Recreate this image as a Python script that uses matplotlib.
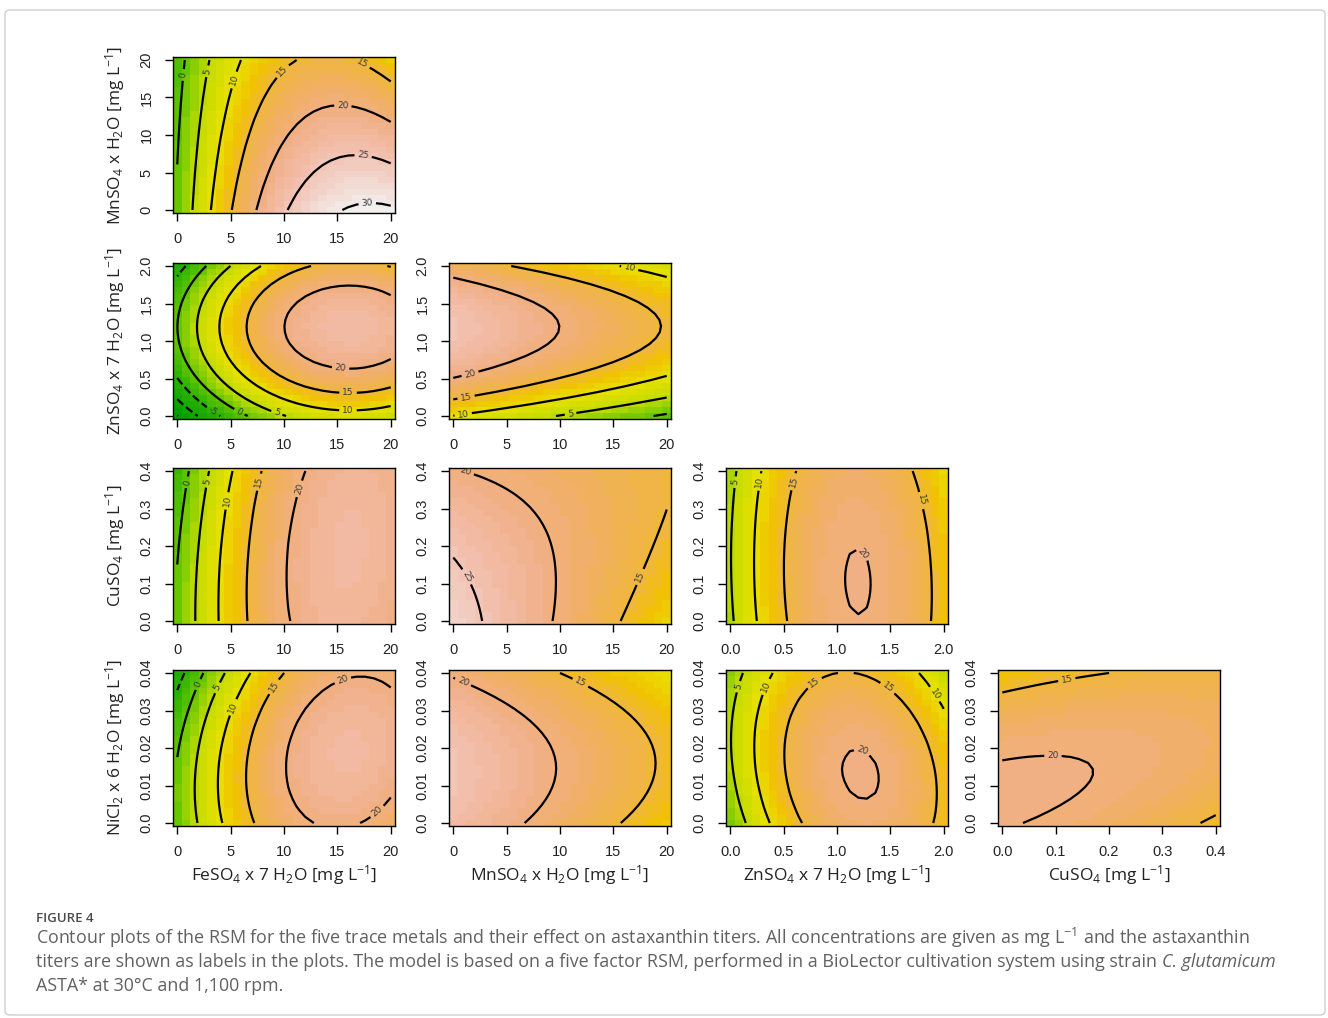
import numpy as np
import matplotlib
matplotlib.use('Agg')
import matplotlib.pyplot as plt
from matplotlib.colors import LinearSegmentedColormap, Normalize
from matplotlib.patches import FancyBboxPatch

plt.rcParams['mathtext.fontset'] = 'custom'
plt.rcParams['mathtext.rm'] = 'Open Sans'
plt.rcParams['mathtext.it'] = 'Open Sans:italic'
plt.rcParams['mathtext.bf'] = 'Open Sans:bold'

# factors of the five factor RSM (Fe, Mn, Zn, Cu, Ni), real units in mg/L
factor_labels = [r"FeSO$_4$ x 7 H$_2$O [mg L$^{-1}$]",
                 r"MnSO$_4$ x H$_2$O [mg L$^{-1}$]",
                 r"ZnSO$_4$ x 7 H$_2$O [mg L$^{-1}$]",
                 r"CuSO$_4$ [mg L$^{-1}$]",
                 r"NiCl$_2$ x 6 H$_2$O [mg L$^{-1}$]"]
factor_low = [0.0, 0.0, 0.0, 0.0, 0.0]
factor_high = [20.0, 20.0, 2.0, 0.4, 0.04]
factor_ticks = [[0, 5, 10, 15, 20],
                [0, 5, 10, 15, 20],
                [0.0, 0.5, 1.0, 1.5, 2.0],
                [0.0, 0.1, 0.2, 0.3, 0.4],
                [0.0, 0.01, 0.02, 0.03, 0.04]]
factor_ticklabels = [["0", "5", "10", "15", "20"],
                     ["0", "5", "10", "15", "20"],
                     ["0.0", "0.5", "1.0", "1.5", "2.0"],
                     ["0.0", "0.1", "0.2", "0.3", "0.4"],
                     ["0.0", "0.01", "0.02", "0.03", "0.04"]]

# second order model in coded units (-1..1), astaxanthin titer in mg/L
b_intercept = 19.6
b_linear = [11.0, -5.1, 4.0, -0.76, -1.6]
b_square = [-9.0, -0.2, -10.8, -0.9, -3.0]
b_inter = {(0, 1): -4.0, (0, 2): 0.0, (0, 3): 1.09, (0, 4): 2.04,
           (1, 2): 0.2, (1, 3): 2.64, (1, 4): 0.4,
           (2, 3): -0.47, (2, 4): -2.2,
           (3, 4): 2.2}

n_grid = 26

# colour stops (titer -> colour), terrain style green-yellow-orange-pink-white
color_values = [-15, -5, 0, 5, 10, 13, 15, 18, 21, 24, 27, 31]
color_stops = ['#009e00', '#2cb200', '#66c600', '#c2db00', '#e8e100',
               '#f0c200', '#f0b83a', '#f0b060', '#f1b088', '#f2bca8',
               '#f2cfc6', '#f2f0ee']

# where the contour labels sit in each panel (data units)
label_spots = {
    (0, 1): [(0.6, 18), (2.8, 18.5), (5.4, 17.3), (10.4, 17.7), (17.2, 19.2),
             (15.5, 13.6), (17.4, 7.0), (17.8, 0.6)],
    (0, 2): [(3.3, 0.05), (5.8, 0.05), (9.3, 0.03), (16, 0.1), (16, 0.3),
             (15.3, 0.63)],
    (1, 2): [(1.5, 0.6), (1.2, 0.25), (0.9, 0.05), (11.0, 0.02), (16.5, 1.95)],
    (0, 3): [(0.9, 0.37), (3.0, 0.37), (4.7, 0.32), (7.7, 0.37), (11.7, 0.35)],
    (1, 3): [(0.9, 0.375), (0.8, 0.11), (17.3, 0.12)],
    (2, 3): [(0.05, 0.37), (0.29, 0.37), (0.61, 0.37), (1.77, 0.32),
             (1.2, 0.17)],
    (0, 4): [(1.9, 0.037), (3.8, 0.036), (5.1, 0.031), (8.7, 0.037),
             (15.4, 0.039), (18.9, 0.0025)],
    (1, 4): [(0.9, 0.0375), (12.1, 0.0385)],
    (2, 4): [(0.12, 0.036), (0.36, 0.036), (0.8, 0.037), (1.5, 0.037),
             (1.95, 0.035), (1.22, 0.018)],
    (3, 4): [(0.12, 0.039), (0.095, 0.017)],
}


def predict(i, j, xi, xj):
    # other factors stay at the centre point (coded 0)
    ci = (factor_low[i] + factor_high[i]) / 2
    hi = (factor_high[i] - factor_low[i]) / 2
    cj = (factor_low[j] + factor_high[j]) / 2
    hj = (factor_high[j] - factor_low[j]) / 2
    u = (xi - ci) / hi
    v = (xj - cj) / hj
    return (b_intercept + b_linear[i] * u + b_linear[j] * v
            + b_square[i] * u ** 2 + b_square[j] * v ** 2
            + b_inter[(i, j)] * u * v)


vmin, vmax = color_values[0], color_values[-1]
pos = [(v - vmin) / (vmax - vmin) for v in color_values]
cmap = LinearSegmentedColormap.from_list('terrain_like', list(zip(pos, color_stops)), N=50)
norm = Normalize(vmin, vmax, clip=True)

pairs = [(i, j) for j in range(1, 5) for i in range(j)]
grids = {}
for i, j in pairs:
    xs = np.linspace(factor_low[i], factor_high[i], n_grid)
    ys = np.linspace(factor_low[j], factor_high[j], n_grid)
    X, Y = np.meshgrid(xs, ys)
    grids[(i, j)] = (xs, ys, predict(i, j, X, Y))

zmin = min(g[2].min() for g in grids.values())
zmax = max(g[2].max() for g in grids.values())
levels = np.arange(5 * np.floor(zmin / 5), zmax + 0.01, 5)

W, H = 1328, 1018
fig = plt.figure(figsize=(W / 100, H / 100), dpi=100)

frame = FancyBboxPatch((5 / W, 1 - 1015 / H), 1320 / W, 1005 / H,
                       boxstyle="round,pad=0,rounding_size=0.004",
                       transform=fig.transFigure, fill=False,
                       edgecolor='#cfcfcf', linewidth=1.0)
fig.patches.append(frame)

col_left = [173, 449, 726, 998]
row_top = [57, 263, 468, 670]
ax_w, ax_h = 222, 156

for i, j in pairs:
    row, col = j - 1, i
    left, top = col_left[col], row_top[row]
    ax = fig.add_axes([left / W, 1 - (top + ax_h) / H, ax_w / W, ax_h / H])
    xs, ys, Z = grids[(i, j)]
    dx = (xs[1] - xs[0]) / 2
    dy = (ys[1] - ys[0]) / 2
    ax.pcolormesh(xs, ys, Z, cmap=cmap, norm=norm, shading='nearest')
    cs = ax.contour(xs, ys, Z, levels=levels, colors='black', linewidths=1.6)
    ax.set_xlim(xs[0] - dx, xs[-1] + dx)
    ax.set_ylim(ys[0] - dy, ys[-1] + dy)
    ax.clabel(cs, fmt='%d', fontsize=6.5, inline=True, inline_spacing=3,
              colors='#3a3a3a', manual=label_spots[(i, j)])

    ax.set_xticks(factor_ticks[i])
    ax.set_xticklabels(factor_ticklabels[i])
    ax.set_yticks(factor_ticks[j])
    ax.set_yticklabels(factor_ticklabels[j], rotation=90, va='center')
    ax.tick_params(length=6, width=1, pad=8, labelsize=10.5,
                   colors='black')
    for lab in ax.get_xticklabels() + ax.get_yticklabels():
        lab.set_family('Liberation Sans')
        lab.set_color('#222222')
    for sp in ax.spines.values():
        sp.set_linewidth(1.0)

    cx = (left + ax_w / 2) / W
    cy = 1 - (top + ax_h / 2) / H
    if col == 0:
        fig.text(115 / W, cy, factor_labels[j], rotation=90, ha='center',
                 va='center', fontsize=12.5, family='Open Sans',
                 color='#222222')
    if row == 3:
        fig.text(cx, 1 - 875 / H, factor_labels[i], ha='center',
                 va='center', fontsize=12.5, family='Open Sans',
                 color='#222222')

# figure caption
cap_color = '#616161'
cap_size = 12.9
fig.text(36 / W, 1 - 919 / H, "FIGURE 4", ha='left', va='center',
         fontsize=9.5, family='Open Sans', weight='semibold', color='#4a4a4a')
caption = [
    "Contour plots of the RSM for the five trace metals and their effect on astaxanthin titers. "
    "All concentrations are given as mg L$^{-1}$ and the astaxanthin",
    "titers are shown as labels in the plots. The model is based on a five factor RSM, "
    "performed in a BioLector cultivation system using strain ",
    "ASTA* at 30°C and 1,100 rpm.",
]
renderer = fig.canvas.get_renderer()
for k, line in enumerate(caption):
    t = fig.text(36 / W, 1 - (938 + 24 * k) / H, line, ha='left', va='center',
                 fontsize=cap_size, family='Open Sans', color=cap_color)
    if k == 1:
        bb = t.get_window_extent(renderer)
        fig.text(bb.x1 / W, 1 - (938 + 24 * k) / H, "C. glutamicum",
                 ha='left', va='center', fontsize=cap_size, family='Open Sans',
                 style='italic', color=cap_color)

fig.savefig('out.png', dpi=100, facecolor='white')
